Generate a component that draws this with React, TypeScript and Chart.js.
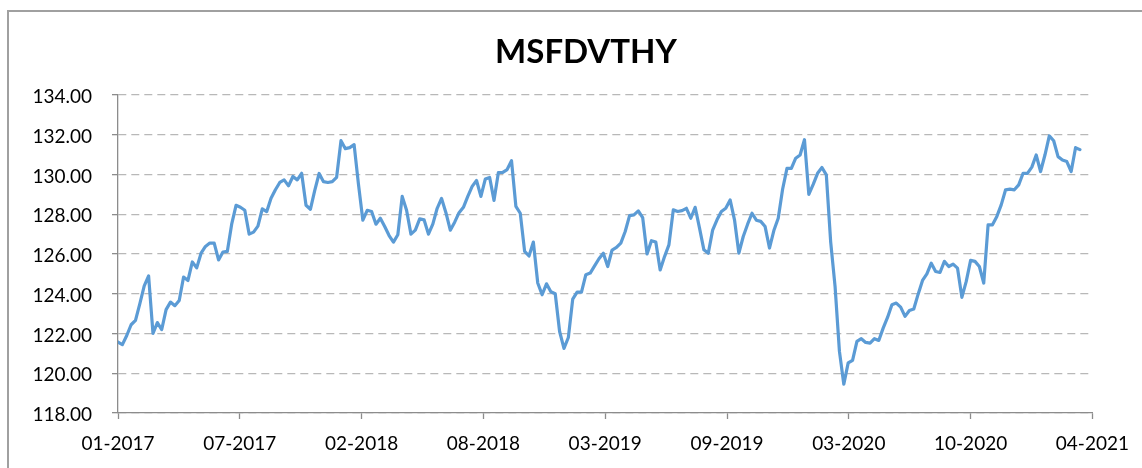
import React, { useEffect, useRef } from "react";
import { Chart, registerables } from "chart.js";

Chart.register(...registerables);

const TITLE = "MSFDVTHY";

const X_LABELS = [
  "01-2017",
  "07-2017",
  "02-2018",
  "08-2018",
  "03-2019",
  "09-2019",
  "03-2020",
  "10-2020",
  "04-2021",
];

// weekly observations between two date labels (195 days / 7)
const WEEKS_PER_LABEL = 195 / 7;

const Y_MIN = 118;
const Y_MAX = 134;
const Y_STEP = 2;

// weekly index values
const VALUES = [
  121.57, 121.44, 121.9, 122.44, 122.66, 123.5, 124.4, 124.9, 122.0, 122.55,
  122.2, 123.2, 123.58, 123.4, 123.66, 124.84, 124.67, 125.6, 125.3, 126.04,
  126.38, 126.55, 126.55, 125.7, 126.1, 126.13, 127.5, 128.45, 128.35, 128.2,
  127.0, 127.1, 127.4, 128.27, 128.13, 128.8, 129.23, 129.6, 129.73, 129.43,
  129.9, 129.73, 130.06, 128.45, 128.25, 129.2, 130.05, 129.64, 129.6, 129.64,
  129.86, 131.7, 131.3, 131.35, 131.5, 129.5, 127.7, 128.2, 128.14, 127.5,
  127.8, 127.38, 126.93, 126.6, 126.97, 128.9, 128.2, 127.0, 127.2, 127.77,
  127.72, 127.0, 127.5, 128.3, 128.8, 128.08, 127.2, 127.6, 128.08, 128.35,
  128.9, 129.4, 129.7, 128.9, 129.77, 129.85, 128.7, 130.1, 130.11, 130.25,
  130.7, 128.4, 128.05, 126.13, 125.9, 126.6, 124.54, 123.95, 124.5, 124.1,
  124.0, 122.1, 121.25, 121.8, 123.73, 124.08, 124.08, 124.96, 125.04, 125.4,
  125.76, 126.04, 125.37, 126.2, 126.33, 126.55, 127.13, 127.93, 127.97, 128.17,
  127.83, 126.0, 126.67, 126.6, 125.2, 125.87, 126.46, 128.22, 128.14, 128.18,
  128.3, 127.8, 128.35, 127.3, 126.21, 126.04, 127.2, 127.72, 128.14, 128.3,
  128.72, 127.72, 126.04, 126.88, 127.5, 128.05, 127.7, 127.64, 127.38, 126.3,
  127.18, 127.8, 129.26, 130.31, 130.31, 130.82, 130.98, 131.75, 129.0, 129.5,
  130.06, 130.35, 129.98, 126.6, 124.37, 121.1, 119.45, 120.52, 120.65, 121.6,
  121.74, 121.55, 121.52, 121.74, 121.65, 122.27, 122.81, 123.45, 123.53, 123.33,
  122.86, 123.16, 123.23, 123.98, 124.67, 125.0, 125.54, 125.12, 125.07, 125.63,
  125.37, 125.49, 125.29, 123.82, 124.62, 125.68, 125.63, 125.37, 124.54, 127.47,
  127.47, 127.89, 128.47, 129.23, 129.26, 129.23, 129.48, 130.06, 130.06, 130.37,
  130.98, 130.15, 130.98, 131.94, 131.7, 130.9, 130.73, 130.65, 130.15, 131.35,
  131.25,
];

const FONT = "Lato, 'Noto Sans', sans-serif";
const AXIS_GREY = "#8c8c8c";

export default function App() {
  const ref = useRef<HTMLCanvasElement | null>(null);

  useEffect(() => {
    if (!ref.current) return;

    const titlePlugin = {
      id: "excelTitle",
      afterDraw(chart: any) {
        const ctx = chart.ctx;
        ctx.save();
        ctx.font = `bold 33px ${FONT}`;
        ctx.fillStyle = "#000000";
        ctx.textAlign = "center";
        ctx.textBaseline = "alphabetic";
        ctx.fillText(TITLE, 586, 63);
        ctx.restore();
      },
    };

    const chart = new Chart(ref.current, {
      type: "line",
      data: {
        datasets: [
          {
            label: TITLE,
            data: VALUES.map((v, i) => ({ x: i, y: v })),
            borderColor: "#5B9BD5",
            backgroundColor: "#5B9BD5",
            borderWidth: 3.2,
            pointRadius: 0,
            tension: 0,
            borderJoinStyle: "round",
            borderCapStyle: "round",
            fill: false,
          },
        ],
      },
      options: {
        animation: false,
        responsive: false,
        events: [],
        layout: { padding: { top: 95, right: 47, left: 0, bottom: 0 } },
        plugins: {
          legend: { display: false },
          tooltip: { enabled: false },
          title: { display: false },
        },
        scales: {
          x: {
            type: "linear",
            min: 0,
            max: (X_LABELS.length - 1) * WEEKS_PER_LABEL,
            afterBuildTicks: (s: any) => {
              s.ticks = X_LABELS.map((_, k) => ({ value: k * WEEKS_PER_LABEL }));
            },
            afterFit: (s: any) => {
              s.height = 55;
            },
            ticks: {
              callback: (_v: any, idx: number) => X_LABELS[idx],
              font: { family: FONT, size: 19 },
              color: "#000000",
              padding: 13,
              maxRotation: 0,
              autoSkip: false,
            },
            grid: {
              display: true,
              drawOnChartArea: false,
              drawTicks: true,
              tickLength: 6,
              tickColor: AXIS_GREY,
              tickWidth: 1.3,
            },
            border: { display: true, color: AXIS_GREY, width: 1.3 },
          },
          y: {
            min: Y_MIN,
            max: Y_MAX,
            afterFit: (s: any) => {
              s.width = 118;
            },
            ticks: {
              stepSize: Y_STEP,
              callback: (v: any) => Number(v).toFixed(2),
              font: { family: FONT, size: 19 },
              color: "#000000",
              padding: 20,
              labelOffset: 2,
            },
            grid: {
              color: "#b8b8b8",
              lineWidth: 1.3,
              drawTicks: true,
              tickLength: 6,
              tickColor: AXIS_GREY,
              tickWidth: 1.3,
              tickBorderDash: [],
            },
            border: { display: true, color: AXIS_GREY, width: 1.3, dash: [8, 5] },
          },
        },
      },
      plugins: [titlePlugin],
    } as any);

    return () => chart.destroy();
  }, []);

  return (
    <div
      style={{
        position: "absolute",
        left: 0,
        top: 0,
        width: 1142,
        height: 468,
        overflow: "hidden",
        background: "#ffffff",
      }}
    >
      <div
        style={{
          position: "absolute",
          left: 7,
          top: 10,
          width: 1200,
          height: 500,
          borderTop: "2px solid #a0a0a0",
          borderLeft: "2px solid #a0a0a0",
        }}
      />
      <canvas
        ref={ref}
        width={1142}
        height={468}
        style={{ position: "absolute", left: 0, top: 0, display: "block" }}
      />
    </div>
  );
}
